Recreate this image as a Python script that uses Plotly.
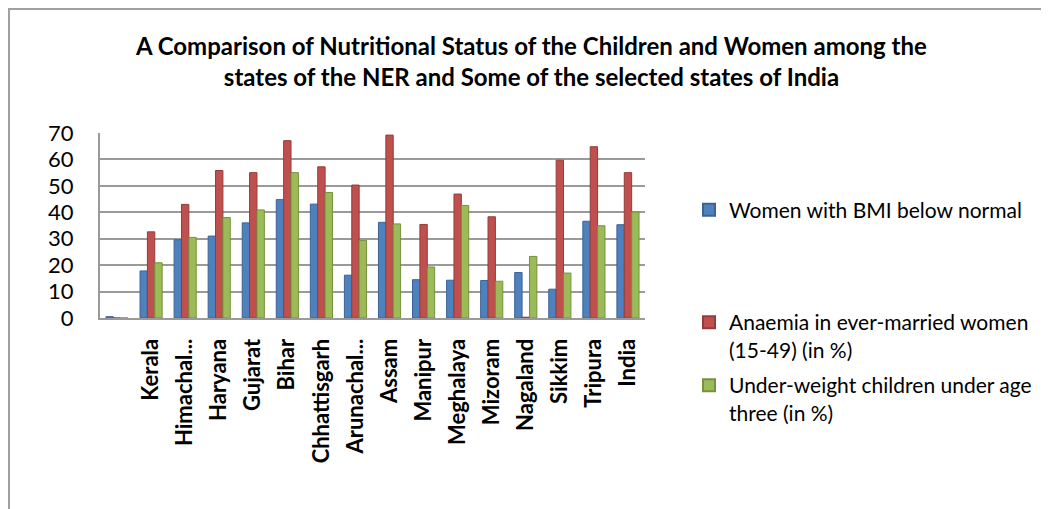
import plotly.graph_objects as go

categories = [" ", "Kerala", "Himachal...", "Haryana", "Gujarat", "Bihar", "Chhattisgarh",
              "Arunachal...", "Assam", "Manipur", "Meghalaya", "Mizoram", "Nagaland",
              "Sikkim", "Tripura", "India"]
women_bmi = [0.5, 17.8, 29.6, 31.0, 36.0, 44.8, 43.1, 16.2, 36.2, 14.5, 14.3, 14.2, 17.2, 10.9, 36.6, 35.3]
anaemia = [0, 32.6, 43.0, 55.8, 55.0, 67.1, 57.2, 50.3, 69.2, 35.4, 46.9, 38.3, 0.3, 59.7, 64.8, 55.0]
underweight = [0, 20.9, 30.5, 38.0, 40.9, 55.0, 47.5, 29.3, 35.6, 19.3, 42.6, 13.9, 23.3, 17.0, 34.9, 40.1]

names = ["Women with BMI below normal",
         "Anaemia in ever-married women<br>(15-49) (in %)",
         "Under-weight children under age<br>three (in %)"]
colors = ["#4F81BD", "#C0504D", "#9BBB59"]
edges = ["#3A6496", "#943C3A", "#76923C"]
legends = ["legend", "legend2", "legend3"]

FONT = "Lato"

# plot area in figure pixels
L, T, W, H = 92, 125, 545, 185

def px(x):
    return (x - L) / W

def py(y):
    return (T + H - y) / H

fig = go.Figure()
for vals, nm, c, e, lg in zip([women_bmi, anaemia, underweight], names, colors, edges, legends):
    fig.add_trace(go.Bar(x=categories, y=vals, name=nm, showlegend=True,
                         marker=dict(color=c, line=dict(color=e, width=1)), legend=lg))

leg_common = dict(font=dict(family=FONT, size=21, color="#000"), bgcolor="rgba(0,0,0,0)",
                  xanchor="left", yanchor="middle", itemsizing="constant", x=px(681),
                  valign="top", visible=True)

fig.update_layout(
    width=1049, height=509,
    margin=dict(l=L, r=1049 - L - W, t=T, b=509 - T - H),
    paper_bgcolor="white", plot_bgcolor="white",
    barmode="group", bargap=0.35, bargroupgap=0.0,
    showlegend=True,
    legend=dict(y=py(202), **leg_common),
    legend2=dict(y=py(328), **leg_common),
    legend3=dict(y=py(391), **leg_common),
    xaxis=dict(type="category", tickangle=-90, tickfont=dict(family=FONT, size=22, color="#000", weight="bold"),
               showline=True, linecolor="#9a9a9a", linewidth=2, ticks="", ticklabelstandoff=10,
               range=[-0.5, 15.5]),
    yaxis=dict(range=[0, 70], dtick=10, tickfont=dict(family=FONT, size=22, color="#000"),
               showgrid=True, gridcolor="#9a9a9a", gridwidth=2, zeroline=False,
               showline=True, linecolor="#9a9a9a", linewidth=2, ticks="", ticklabelstandoff=20),
    annotations=[
        dict(text="<b>A Comparison of Nutritional Status of the Children and Women among the<br>states of the NER and Some of the selected states of India</b>",
             xref="paper", yref="paper", x=px(523), y=py(53), xanchor="center", yanchor="middle",
             showarrow=False, align="center",
             font=dict(family=FONT, size=24, color="#000")),
    ],
    shapes=[
        dict(type="line", xref="paper", yref="paper", x0=px(1), x1=px(1),
             y0=py(509), y1=py(0), line=dict(color="#a0a0a0", width=2)),
        dict(type="line", xref="paper", yref="paper", x0=px(0), x1=px(1049),
             y0=py(1), y1=py(1), line=dict(color="#a0a0a0", width=2)),
    ],
)

fig.write_html("out.html")
